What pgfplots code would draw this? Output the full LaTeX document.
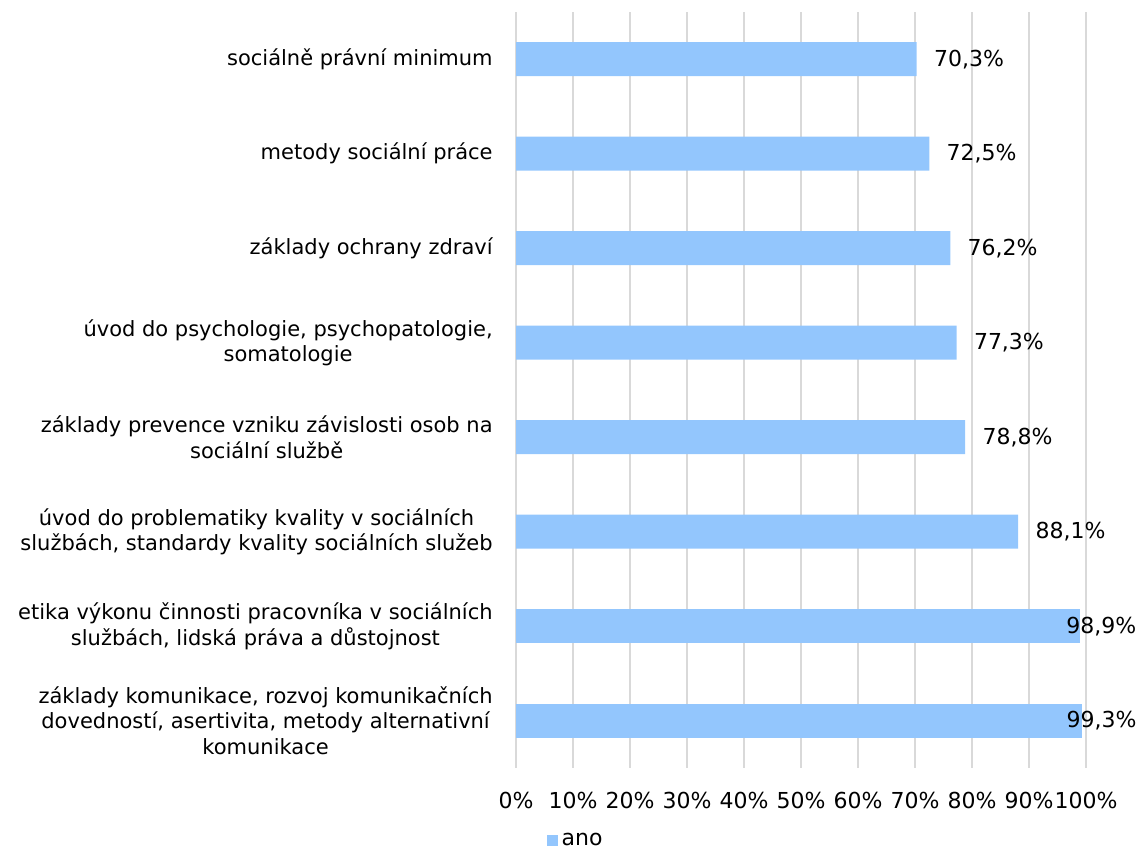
\documentclass[border=0pt]{standalone}
\usepackage{fontspec}
\setmainfont{DejaVu Sans}
\usepackage{pgfplots}
\pgfplotsset{compat=1.18}
\definecolor{barblue}{RGB}{147,198,253}
\definecolor{gridgray}{RGB}{217,217,217}
\begin{document}
\fontsize{10.5}{12.6}\selectfont
\begin{tikzpicture}
\path[use as bounding box] (0,0) rectangle (570pt,427pt);
\begin{axis}[
  at={(258pt,43pt)}, anchor=south west,
  scale only axis, width=285pt, height=378pt,
  xbar, bar width=17pt, bar shift=0pt,
  xmin=0, xmax=100, ymin=-0.5, ymax=7.5,
  axis line style={draw=none},
  major tick length=0pt,
  xtick={0,10,...,100},
  xticklabels={0\%,10\%,20\%,30\%,40\%,50\%,60\%,70\%,80\%,90\%,100\%},
  xticklabel style={yshift=-8.5pt, font=\fontsize{11}{13}\selectfont},
  xmajorgrids, grid style={draw=gridgray, line width=1pt},
  ytick={0,...,7},
  yticklabels={{základy komunikace, rozvoj komunikačních\\dovedností, asertivita, metody alternativní\\komunikace},
    {etika výkonu činnosti pracovníka v sociálních\\službách, lidská práva a důstojnost},
    {úvod do problematiky kvality v sociálních\\službách, standardy kvality sociálních služeb},
    {základy prevence vzniku závislosti osob na\\sociální službě},
    {úvod do psychologie, psychopatologie,\\somatologie},
    {základy ochrany zdraví},
    {metody sociální práce},
    {sociálně právní minimum}},
  yticklabel style={align=center, xshift=-8pt, font=\fontsize{10.5}{12.6}\selectfont},
  /pgf/number format/assume math mode=true,
  /pgf/number format/.cd, use comma, fixed, fixed zerofill, precision=1,
  /pgfplots/.cd,
  legend style={at={(axis description cs:0.054,-0.096)}, anchor=west, draw=none, inner sep=0pt,
    font=\fontsize{11}{13}\selectfont},
  legend image code/.code={\fill[barblue] (0cm,-2.6pt) rectangle (5.2pt,2.6pt);},
  nodes near coords={\pgfmathprintnumber{\pgfplotspointmeta}\%},
  nodes near coords style={font=\fontsize{11}{13}\selectfont, text=black},
]
\addplot[fill=barblue, draw=none, nodes near coords style={anchor=west, xshift=5pt}]
  coordinates {(88.1,2) (78.8,3) (77.3,4) (76.2,5) (72.5,6) (70.3,7)};
\addlegendentry{ano}
\addplot[fill=barblue, draw=none, forget plot, nodes near coords style={anchor=east, inner sep=0pt, xshift=28.5pt}]
  coordinates {(98.9,1)};
\addplot[fill=barblue, draw=none, forget plot, nodes near coords style={anchor=east, inner sep=0pt, xshift=27.5pt}]
  coordinates {(99.3,0)};
\end{axis}
\end{tikzpicture}
\end{document}
